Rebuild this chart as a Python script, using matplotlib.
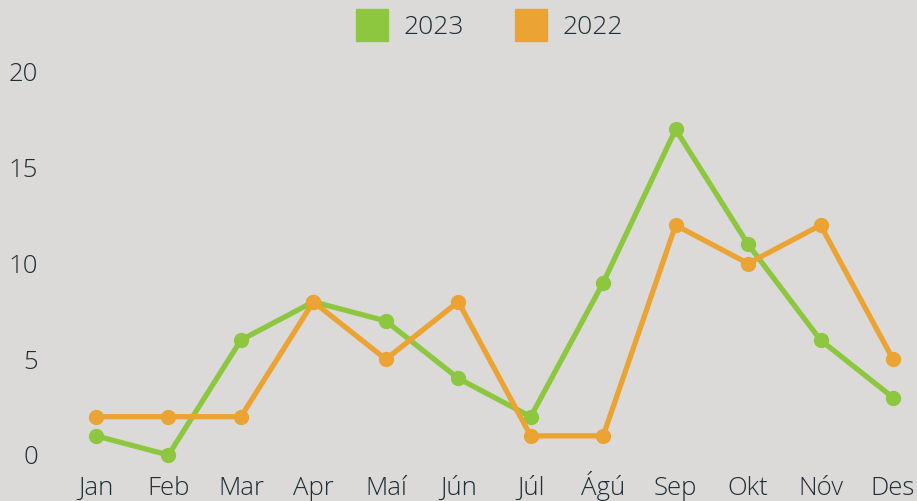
import matplotlib.pyplot as plt
from matplotlib.lines import Line2D

months = ["Jan", "Feb", "Mar", "Apr", "Maí", "Jún", "Júl", "Ágú", "Sep", "Okt", "Nóv", "Des"]
y2023 = [1, 0, 6, 8, 7, 4, 2, 9, 17, 11, 6, 3]
y2022 = [2, 2, 2, 8, 5, 8, 1, 1, 12, 10, 12, 5]
yticks = [0, 5, 10, 15, 20]

bg = "#DCDAD8"
green = "#8DC63F"
orange = "#EBA433"
txt = "#1F2D35"

plt.rcParams["font.family"] = ["Open Sans", "DejaVu Sans"]

fig = plt.figure(figsize=(9.17, 5.01), dpi=100, facecolor=bg)
W, H = 917, 501
ax = fig.add_axes([96 / W, (H - 455) / H, (893 - 96) / W, (455 - 72) / H])
ax.set_facecolor(bg)

x = list(range(len(months)))
ax.plot(x, y2023, color=green, lw=3.8, marker="o", ms=10, clip_on=False, zorder=3)
ax.plot(x, y2022, color=orange, lw=3.8, marker="o", ms=10, clip_on=False, zorder=3)

ax.set_xlim(0, 11)
ax.set_ylim(0, 20)
ax.set_xticks(x)
ax.set_xticklabels(months)
ax.set_yticks(yticks)
for s in ax.spines.values():
    s.set_visible(False)
ax.tick_params(axis="both", length=0, labelsize=18.5, labelcolor=txt)
ax.tick_params(axis="y", pad=42)
ax.tick_params(axis="x", pad=29)
for lab in ax.get_xticklabels():
    lab.set_verticalalignment("baseline")
for lab in ax.get_xticklabels() + ax.get_yticklabels():
    lab.set_fontweight("light")

handles = [
    Line2D([], [], color=green, marker="s", ls="none", ms=22.5),
    Line2D([], [], color=orange, marker="s", ls="none", ms=22.5),
]
leg = fig.legend(handles, ["2023", "2022"], loc="center", bbox_to_anchor=(489 / W, 1 - 28 / H),
                 ncol=2, frameon=False, fontsize=19, handletextpad=0.55, columnspacing=1.9,
                 handlelength=1.3)
for t in leg.get_texts():
    t.set_color(txt)
    t.set_fontweight("light")

fig.savefig("out.png", dpi=100, facecolor=bg)
